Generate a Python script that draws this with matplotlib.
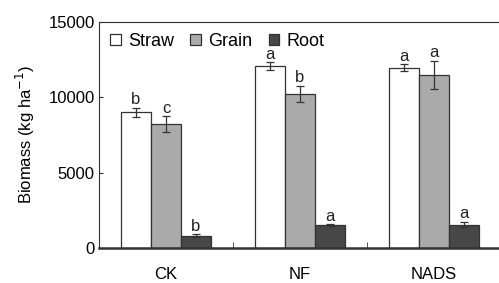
import numpy as np
import matplotlib.pyplot as plt

plt.rcParams['font.family'] = ['Liberation Sans', 'DejaVu Sans']

groups = ['CK', 'NF', 'NADS']
series = ['Straw', 'Grain', 'Root']
straw = [9000, 12050, 11950]
grain = [8200, 10250, 11500]
root = [800, 1500, 1550]
straw_err = [280, 265, 230]
grain_err = [530, 530, 920]
root_err = [100, 60, 150]
straw_sig = ['b', 'a', 'a']
grain_sig = ['c', 'b', 'a']
root_sig = ['b', 'a', 'a']

colors = ['white', '#aaaaaa', '#474747']
edge = '#333333'

fig = plt.figure(figsize=(4.99, 2.83), dpi=100)
ax = fig.add_axes([99/499, 1-248/283, 402/499, 226/283])

x = np.arange(len(groups))
w = 0.224
vals = [straw, grain, root]
errs = [straw_err, grain_err, root_err]
sigs = [straw_sig, grain_sig, root_sig]
for i in range(3):
    xi = x + (i-1)*w
    ax.bar(xi, vals[i], w, color=colors[i], edgecolor=edge, linewidth=0.9,
           label=series[i], zorder=2)
    ax.errorbar(xi, vals[i], yerr=errs[i], fmt='none', ecolor=edge,
                elinewidth=0.9, capsize=3, capthick=0.9, zorder=3)
    for xx, v, e, s in zip(xi, vals[i], errs[i], sigs[i]):
        ax.text(xx, v+e+60, s, ha='center', va='bottom', fontsize=12, color='#222222')

ax.set_xlim(-0.5, 2.5)
ax.set_ylim(0, 15000)
ax.set_yticks([0, 5000, 10000, 15000])
ax.set_xticks(x)
ax.set_xticklabels(groups)
ax.set_xticks([0.5, 1.5], minor=True)
ax.tick_params(axis='x', which='major', length=0, pad=14, labelsize=12)
ax.tick_params(axis='x', which='minor', direction='in', length=4, color=edge)
ax.tick_params(axis='y', direction='in', length=3, labelsize=12, pad=3, color=edge)
ax.set_ylabel('Biomass (kg ha$^{-1}$)', fontsize=12, labelpad=8)

ax.spines['right'].set_visible(False)
ax.spines['bottom'].set_linewidth(1.8)
for s in ['left', 'top', 'bottom']:
    ax.spines[s].set_color('#333333')

ax.legend(loc='upper left', ncol=3, frameon=False, fontsize=13,
          handlelength=0.6, handleheight=0.6, handletextpad=0.4,
          columnspacing=0.9, borderaxespad=0.2, bbox_to_anchor=(0.0, 1.0))

fig.savefig('out.png', dpi=100)
